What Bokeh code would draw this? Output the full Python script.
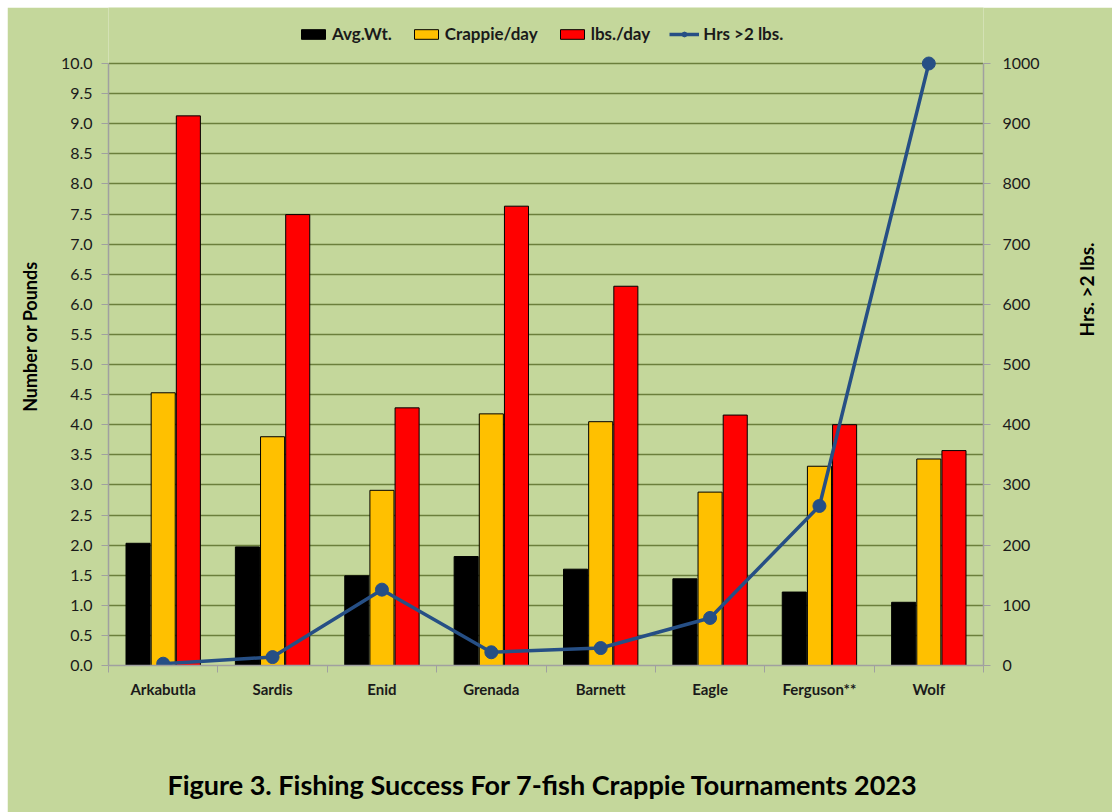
import math
from bokeh.plotting import figure
from bokeh.models import (Range1d, LinearAxis, FixedTicker, Legend, LegendItem,
                          ColumnDataSource, NumeralTickFormatter)
from bokeh.transform import dodge
from bokeh.embed import file_html
from bokeh.resources import INLINE

lakes = ["Arkabutla", "Sardis", "Enid", "Grenada", "Barnett", "Eagle", "Ferguson**", "Wolf"]
avg_wt = [2.03, 1.97, 1.49, 1.81, 1.60, 1.44, 1.22, 1.05]
crappie_day = [4.53, 3.80, 2.91, 4.18, 4.05, 2.88, 3.31, 3.43]
lbs_day = [9.13, 7.49, 4.28, 7.63, 6.30, 4.16, 4.00, 3.57]
hrs_2lbs = [3, 14, 126, 22, 29, 79, 265, 1000]
left_ticks = [i * 0.5 for i in range(21)]
right_ticks = list(range(0, 1001, 100))
series_names = ["Avg.Wt.", "Crappie/day", "lbs./day", "Hrs >2 lbs."]
title_text = "Figure 3.  Fishing Success For 7-fish Crappie Tournaments 2023"

BG = "#C4D79B"
GRID = "#6B7F3C"
AXIS = "#A0A0A0"
FONT = "Lato"
TXT = "#1a1a1a"
BAR_COLORS = ["black", "#FFC000", "#FF0000"]
LINE_COLOR = "#264F85"

# layout (pixels)
W, H = 1105, 805
BORDER_B = 147
PLOT_H = 602          # height of the 0..10 value span
FRAME_H = H - BORDER_B
y_top = 10 * FRAME_H / PLOT_H   # headroom above 10 holds the legend

xc = [i + 0.5 for i in range(len(lakes))]
src = ColumnDataSource(dict(x=xc, avg=avg_wt, cr=crappie_day, lbs=lbs_day, hrs=hrs_2lbs))

p = figure(width=W, height=H, output_backend="svg", toolbar_location=None,
           x_range=Range1d(0, len(lakes)), y_range=Range1d(0, y_top),
           min_border_left=101, min_border_right=129, min_border_top=0,
           min_border_bottom=BORDER_B)
p.styles = {"margin-left": "7px", "margin-top": "7px"}
p.extra_y_ranges = {"hrs": Range1d(0, y_top * 100)}
p.background_fill_color = BG
p.border_fill_color = BG
p.outline_line_color = None

offsets = [-0.23, 0.0, 0.23]
fields = ["avg", "cr", "lbs"]
bars = []
for off, fld, col in zip(offsets, fields, BAR_COLORS):
    bars.append(p.vbar(x=dodge("x", off), top=fld, width=0.22, source=src,
                       fill_color=col, line_color="black", line_width=1))
rl = p.line(x="x", y="hrs", source=src, y_range_name="hrs", line_color=LINE_COLOR, line_width=3.5)
rs = p.scatter(x="x", y="hrs", source=src, y_range_name="hrs", size=13,
               fill_color=LINE_COLOR, line_color=LINE_COLOR)

p.xgrid.visible = False
p.ygrid.ticker = FixedTicker(ticks=left_ticks)
p.ygrid.grid_line_color = GRID
p.ygrid.grid_line_width = 1.5

# bottom axis: lake names, chart title as the axis label
xa = p.xaxis[0]
xa.ticker = FixedTicker(ticks=xc, minor_ticks=list(range(len(lakes) + 1)))
xa.major_label_overrides = {x: name for x, name in zip(xc, lakes)}
xa.major_tick_out = 0
xa.major_tick_in = 0
xa.minor_tick_out = 7
xa.minor_tick_in = 0
xa.minor_tick_line_color = AXIS
xa.axis_line_color = AXIS
xa.axis_line_width = 1.5
xa.major_label_text_font = FONT
xa.major_label_text_font_style = "bold"
xa.major_label_text_font_size = "15px"
xa.major_label_text_color = TXT
xa.major_label_standoff = 7
xa.axis_label = title_text
xa.axis_label_text_font = FONT
xa.axis_label_text_font_style = "bold"
xa.axis_label_text_font_size = "27px"
xa.axis_label_text_color = "black"
xa.axis_label_standoff = 67

ya = p.yaxis[0]
ya.ticker = FixedTicker(ticks=left_ticks)
ya.bounds = (0, 10)
ya.formatter = NumeralTickFormatter(format="0.0")
ya.major_tick_out = 7
ya.major_tick_in = 0
ya.minor_tick_line_color = None
ya.major_tick_line_color = AXIS
ya.axis_line_color = AXIS
ya.axis_line_width = 1.5
ya.major_label_text_font = FONT
ya.major_label_text_font_size = "16px"
ya.major_label_text_color = TXT
ya.major_label_standoff = 9
ya.axis_label = "Number or Pounds"
ya.axis_label_text_font = FONT
ya.axis_label_text_font_style = "bold"
ya.axis_label_text_font_size = "18px"
ya.axis_label_text_color = "black"
ya.axis_label_standoff = 17

ra = LinearAxis(y_range_name="hrs", ticker=FixedTicker(ticks=right_ticks), bounds=(0, 1000))
ra.major_tick_out = 7
ra.major_tick_in = 0
ra.minor_tick_line_color = None
ra.major_tick_line_color = AXIS
ra.axis_line_color = AXIS
ra.axis_line_width = 1.5
ra.major_label_text_font = FONT
ra.major_label_text_font_size = "16px"
ra.major_label_text_color = TXT
ra.major_label_standoff = 12
ra.axis_label = "Hrs. >2 lbs."
ra.axis_label_text_font = FONT
ra.axis_label_text_font_style = "bold"
ra.axis_label_text_font_size = "19px"
ra.axis_label_text_color = "black"
ra.axis_label_standoff = 44
if "axis_label_orientation" in LinearAxis.properties():
    ra.axis_label_orientation = math.pi / 2
p.add_layout(ra, "right")

items = [LegendItem(label=n, renderers=[r]) for n, r in zip(series_names[:3], bars)]
items.append(LegendItem(label=series_names[3], renderers=[rl, rs]))
legend = Legend(items=items, orientation="horizontal", location=(190, FRAME_H - 37),
                background_fill_alpha=0, border_line_color=None,
                label_text_font=FONT, label_text_font_style="bold", label_text_font_size="17px",
                label_text_color=TXT, glyph_width=30, glyph_height=12, label_standoff=4,
                spacing=19, padding=4, margin=0)
p.add_layout(legend, "center")

open("out.html", "w").write(file_html(p, INLINE))
